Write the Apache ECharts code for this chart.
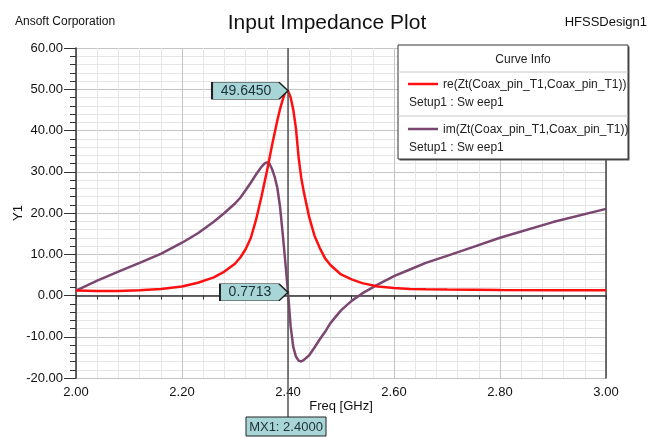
<!DOCTYPE html>
<html>
<head>
<meta charset="utf-8">
<script src="https://cdn.jsdelivr.net/npm/echarts@6/dist/echarts.min.js"></script>
<style>
html,body{margin:0;padding:0;background:#fff;}
#chart{width:654px;height:438px;}
</style>
</head>
<body>
<div id="chart"></div>
<script>
// ---- data ----
const freq = [2.00,2.04,2.08,2.12,2.16,2.20,2.23,2.26,2.28,2.30,2.31,2.32,2.33,2.34,2.35,2.355,2.36,2.365,2.37,2.375,2.38,2.385,2.39,2.395,2.40,2.405,2.41,2.415,2.42,2.425,2.43,2.44,2.45,2.46,2.47,2.48,2.50,2.52,2.54,2.57,2.60,2.63,2.66,2.70,2.75,2.80,2.90,3.00];
const reZ  = [1.2,1.1,1.1,1.3,1.6,2.2,3.1,4.4,5.8,7.7,9.2,11.2,14.0,18.5,24.0,27.0,30.0,33.2,36.5,39.5,42.5,45.2,47.5,49.3,49.645,48.0,45.0,40.5,33.5,28.5,25.0,19.0,14.5,11.5,9.0,7.4,5.1,3.9,3.0,2.2,1.8,1.6,1.5,1.45,1.4,1.35,1.3,1.3];
const imZ  = [1.2,3.6,5.8,7.9,10.1,12.8,15.1,17.9,20.0,22.3,23.7,25.5,27.4,29.4,31.2,31.9,32.3,32.0,30.6,28.7,26.0,21.5,15.0,8.0,0.7713,-7.5,-12.5,-14.8,-15.8,-16.0,-15.6,-14.5,-12.6,-10.6,-8.8,-6.7,-3.6,-1.3,0.5,2.7,4.7,6.3,7.9,9.6,11.8,14.0,17.8,21.0];
const xTicks = [2.00,2.20,2.40,2.60,2.80,3.00];
const yTicks = [-20,-10,0,10,20,30,40,50,60];
const seriesNames = ['re(Zt(Coax_pin_T1,Coax_pin_T1))','im(Zt(Coax_pin_T1,Coax_pin_T1))'];
const setupText = 'Setup1 : Sw eep1';
const markerFreq = 2.40;
const markerRe = 49.645;
const markerIm = 0.7713;

const FONT = '"Liberation Sans",Arial,sans-serif';
const RED = '#ff1010';
const PURPLE = '#7b4670';
const TAG = '#a8d6d6';

const chart = echarts.init(document.getElementById('chart'));
const pairs = (ys) => freq.map((f,i)=>[f, ys[i]]);

function tagPoint(x, y, txt, w){
  return {
    coord:[x,y], value: txt,
    symbol: 'path://M0,0 L'+(w-9)+',0 L'+w+',8.5 L'+(w-9)+',17 L0,17 Z',
    symbolSize:[w,17], symbolOffset:[-w/2,0], symbolKeepAspect:false,
    label:{show:true, formatter: txt, color:'#1e2e3a', fontSize:14, fontFamily:FONT, position:'inside', offset:[-4,0]},
    itemStyle:{color:TAG, borderColor:'#222', borderWidth:1}
  };
}

const option = {
  animation:false,
  backgroundColor:'#fff',
  textStyle:{fontFamily:FONT},
  title:[
    {text:'Input Impedance Plot', left:'center', top:8, textStyle:{fontSize:21, fontWeight:'normal', color:'#111', fontFamily:FONT}},
    {text:'Ansoft Corporation', left:10, top:11, textStyle:{fontSize:12, fontWeight:'normal', color:'#111', fontFamily:FONT}},
    {text:'HFSSDesign1', right:2, top:11, textStyle:{fontSize:13, fontWeight:'normal', color:'#111', fontFamily:FONT}}
  ],
  grid:{left:76, right:48, top:48, bottom:60, containLabel:false, outerBoundsMode:'none'},
  xAxis:{
    type:'value', min:2.0, max:3.0, interval:0.2,
    name:'Freq [GHz]', nameLocation:'middle', nameGap:22, nameMoveOverlap:false,
    nameTextStyle:{fontSize:13, color:'#111', fontFamily:FONT},
    axisLine:{show:true, lineStyle:{color:'#333', width:1.5}},
    axisTick:{show:true, length:4, lineStyle:{color:'#333'}},
    minorTick:{show:true, splitNumber:5, length:4, lineStyle:{color:'#333'}},
    axisLabel:{fontSize:13, color:'#111', fontFamily:FONT, margin:8, formatter:(v)=>v.toFixed(2)},
    splitLine:{show:true, lineStyle:{color:'#c4c4c4', width:1}},
    minorSplitLine:{show:true, lineStyle:{color:'#e6e6e6', width:1}}
  },
  yAxis:[{
    type:'value', min:-20, max:60, interval:10,
    name:'Y1', nameLocation:'middle', nameGap:51, nameRotate:90, nameMoveOverlap:false,
    nameTextStyle:{fontSize:13, color:'#111', fontFamily:FONT},
    axisLine:{show:true, lineStyle:{color:'#333', width:1.5}},
    axisTick:{show:true, length:12, lineStyle:{color:'#333'}},
    minorTick:{show:true, splitNumber:5, length:6, lineStyle:{color:'#333'}},
    axisLabel:{fontSize:13, color:'#111', fontFamily:FONT, margin:13, formatter:(v)=>v.toFixed(2)},
    splitLine:{show:true, lineStyle:{color:'#c4c4c4', width:1}},
    minorSplitLine:{show:true, lineStyle:{color:'#e6e6e6', width:1}}
  },{
    type:'value', min:-20, max:60, interval:10, position:'right',
    axisLine:{show:true, lineStyle:{color:'#444', width:1.5}},
    axisTick:{show:false}, axisLabel:{show:false}, splitLine:{show:false}
  }],
  series:[
    {
      name:seriesNames[0], type:'line', data:pairs(reZ), showSymbol:false, symbol:'none',
      lineStyle:{color:RED, width:2.5}, itemStyle:{color:RED}, z:3,
      markLine:{
        silent:true, symbol:'none', label:{show:false},
        lineStyle:{color:'#555', width:1.5, type:'solid'},
        data:[{xAxis:markerFreq}]
      },
      markPoint:{ data:[tagPoint(markerFreq, markerRe, markerRe.toFixed(4), 76)], z:10 }
    },
    {
      name:seriesNames[1], type:'line', data:pairs(imZ), showSymbol:false, symbol:'none',
      lineStyle:{color:PURPLE, width:2.5}, itemStyle:{color:PURPLE}, z:2,
      markPoint:{ data:[tagPoint(markerFreq, markerIm, markerIm.toFixed(4), 68)], z:10 }
    }
  ]
};
chart.setOption(option);

// marker extension + MX1 label, legend box (positions derived from axes)
const mx = chart.convertToPixel({xAxisIndex:0}, markerFreq);
const yBottom = chart.convertToPixel({yAxisIndex:0}, -20);
const yTop = chart.convertToPixel({yAxisIndex:0}, 60);
const lgL = 398, lgT = yTop - 3, lgW = 230, lgH = 114;
chart.setOption({
  graphic:[
    {type:'line', shape:{x1:mx, y1:yBottom, x2:mx, y2:yBottom+40}, style:{stroke:'#555', lineWidth:1.5}, z:5},
    {type:'rect', shape:{x:mx-42, y:yBottom+39, width:80, height:19}, style:{fill:TAG, stroke:'#222', lineWidth:1}, z:6},
    {type:'text', x:mx-2, y:yBottom+49, style:{text:'MX1: 2.4000', fill:'#1e2e3a', font:'13px '+FONT, align:'center', verticalAlign:'middle'}, z:7},
    // legend box
    {type:'rect', shape:{x:lgL+1.5, y:lgT+1.5, width:lgW, height:lgH}, style:{fill:'#555', stroke:null}, z:20},
    {type:'rect', shape:{x:lgL, y:lgT, width:lgW, height:lgH}, style:{fill:'#fff', stroke:'#333', lineWidth:1}, z:21},
    {type:'text', x:lgL+lgW/2+10, y:lgT+15, style:{text:'Curve Info', fill:'#222', font:'12px '+FONT, align:'center', verticalAlign:'middle'}, z:22},
    {type:'line', shape:{x1:lgL, y1:lgT+27, x2:lgL+lgW, y2:lgT+27}, style:{stroke:'#c8c8c8', lineWidth:1}, z:22},
    {type:'line', shape:{x1:lgL+10, y1:lgT+39, x2:lgL+40, y2:lgT+39}, style:{stroke:RED, lineWidth:2.5}, z:22},
    {type:'text', x:lgL+45, y:lgT+40, style:{text:seriesNames[0], fill:'#222', font:'12px '+FONT, align:'left', verticalAlign:'middle'}, z:22},
    {type:'text', x:lgL+11, y:lgT+58, style:{text:setupText, fill:'#222', font:'12px '+FONT, align:'left', verticalAlign:'middle'}, z:22},
    {type:'line', shape:{x1:lgL, y1:lgT+71, x2:lgL+lgW, y2:lgT+71}, style:{stroke:'#c8c8c8', lineWidth:1}, z:22},
    {type:'line', shape:{x1:lgL+10, y1:lgT+84, x2:lgL+40, y2:lgT+84}, style:{stroke:PURPLE, lineWidth:2.5}, z:22},
    {type:'text', x:lgL+45, y:lgT+85, style:{text:seriesNames[1], fill:'#222', font:'12px '+FONT, align:'left', verticalAlign:'middle'}, z:22},
    {type:'text', x:lgL+11, y:lgT+103, style:{text:setupText, fill:'#222', font:'12px '+FONT, align:'left', verticalAlign:'middle'}, z:22}
  ]
});
</script>
</body>
</html>
